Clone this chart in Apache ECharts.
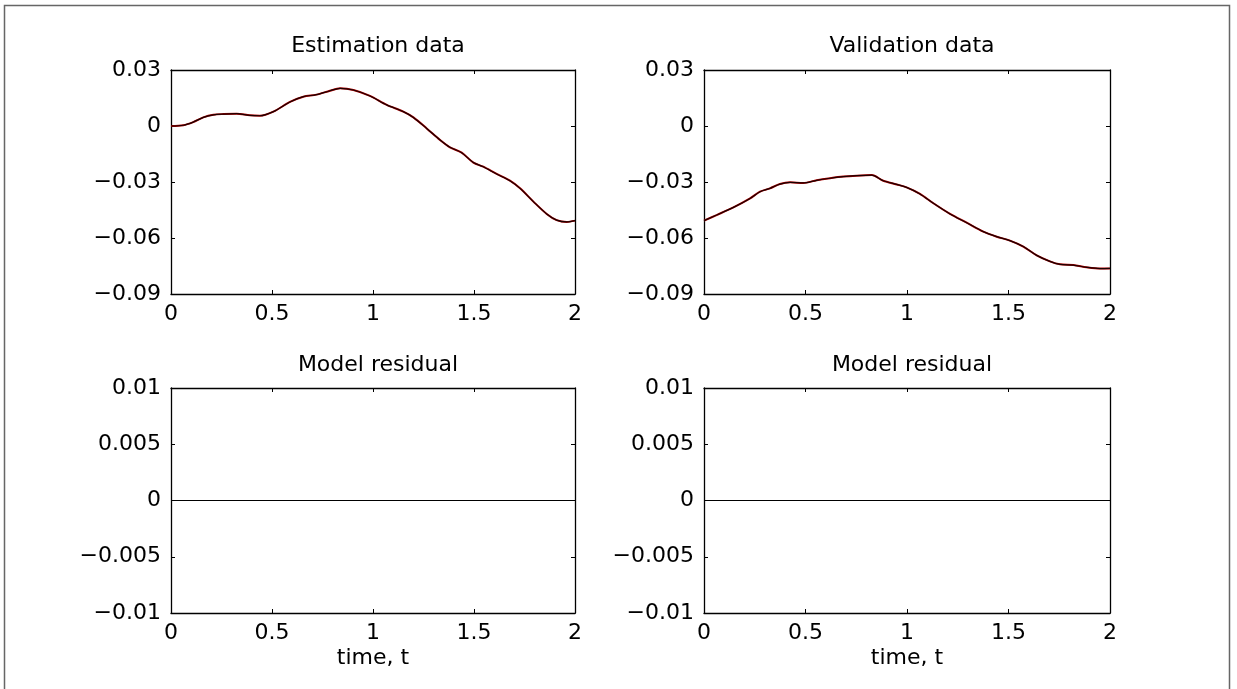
<!DOCTYPE html>
<html>
<head>
<meta charset="utf-8">
<script src="https://cdn.jsdelivr.net/npm/echarts@6/dist/echarts.min.js"></script>
<style>
html,body{margin:0;padding:0;background:#fff;}
#chart{width:1237px;height:689px;}
</style>
</head>
<body>
<div id="chart"></div>
<script>
// Estimation data [t, value]
const estimationData = [
  [0,0],[0.061,0.0004],[0.11,0.0021],[0.16,0.0046],[0.21,0.006],[0.26,0.0064],
  [0.325,0.0066],[0.39,0.0057],[0.44,0.0055],[0.507,0.0077],[0.589,0.0129],
  [0.655,0.0157],[0.72,0.0168],[0.787,0.0189],[0.837,0.0202],[0.903,0.0193],
  [0.985,0.0161],[1.068,0.0113],[1.15,0.0077],[1.2,0.0046],[1.266,-0.0013],
  [1.332,-0.0075],[1.381,-0.0114],[1.439,-0.0143],[1.497,-0.0196],[1.546,-0.0218],
  [1.612,-0.0257],[1.678,-0.0293],[1.728,-0.0334],[1.794,-0.0405],[1.86,-0.0471],
  [1.909,-0.0504],[1.959,-0.0514],[2.0,-0.0507]
];
// Validation data [t, value]
const validationData = [
  [0,-0.0507],[0.062,-0.0477],[0.145,-0.0436],[0.227,-0.0388],[0.276,-0.0352],
  [0.325,-0.0334],[0.374,-0.0311],[0.424,-0.0302],[0.489,-0.0305],[0.555,-0.0291],
  [0.621,-0.028],[0.686,-0.0271],[0.752,-0.0266],[0.826,-0.0263],[0.883,-0.0293],
  [0.949,-0.0313],[0.998,-0.0329],[1.064,-0.0364],[1.13,-0.0414],[1.212,-0.0471],
  [1.294,-0.0518],[1.376,-0.0566],[1.442,-0.0593],[1.507,-0.0614],[1.573,-0.0646],
  [1.639,-0.0693],[1.704,-0.0725],[1.754,-0.0741],[1.819,-0.0745],[1.885,-0.0757],
  [1.951,-0.0764],[2.0,-0.0763]
];
// Model residuals [t, value]
const residualEstimation = [[0,0],[2,0]];
const residualValidation = [[0,0],[2,0]];

const titles = ['Estimation data','Validation data','Model residual','Model residual'];
const xTicks = [0,0.5,1,1.5,2];
const yTicksTop = [-0.09,-0.06,-0.03,0,0.03];
const yTicksBottom = [-0.01,-0.005,0,0.005,0.01];
const xName = 'time, t';

const FONT = 'DejaVu Sans, Liberation Sans, Arial, sans-serif';
const FS = 22;

const grids = [
  {left:171, top:70, width:404, height:224},
  {left:704, top:70, width:406, height:224},
  {left:171, top:388, width:404, height:225},
  {left:704, top:388, width:406, height:225}
];

function fmt(v){
  let r = Math.round(v*100000)/100000;
  let s = String(r);
  return s.replace('-', '\u2212');
}

const xAxes = [], yAxes = [];
grids.forEach((g,i)=>{
  const lineStyle = {color:'#000', width:1.3};
  const bottom = i>=2;
  xAxes.push({
    type:'value', gridIndex:i, min:0, max:2, interval:0.5, position:'bottom',
    axisLine:{show:true, onZero:false, lineStyle},
    axisTick:{show:true, inside:true, length:4, lineStyle:{color:'#000',width:1}},
    axisLabel:{show:true, margin:9, color:'#000', fontSize:FS, fontFamily:FONT, formatter:fmt,
      customValues: xTicks},
    splitLine:{show:false},
    name: bottom ? xName : '', nameLocation:'middle', nameGap:34,
    nameTextStyle:{color:'#000', fontSize:FS, fontFamily:FONT}
  });
  xAxes.push({
    type:'value', gridIndex:i, min:0, max:2, interval:0.5, position:'top',
    axisLine:{show:true, onZero:false, lineStyle},
    axisTick:{show:true, inside:true, length:4, lineStyle:{color:'#000',width:1}},
    axisLabel:{show:false}, splitLine:{show:false}
  });
  const yt = i<2 ? yTicksTop : yTicksBottom;
  const ymin = yt[0], ymax = yt[yt.length-1], yint = yt[1]-yt[0];
  yAxes.push({
    type:'value', gridIndex:i, min:ymin, max:ymax, interval:yint, position:'left',
    axisLine:{show:true, onZero:false, lineStyle},
    axisTick:{show:true, inside:true, length:4, lineStyle:{color:'#000',width:1}},
    axisLabel:{show:true, margin:10, color:'#000', fontSize:FS, fontFamily:FONT, formatter:fmt},
    splitLine:{show:false}
  });
  yAxes.push({
    type:'value', gridIndex:i, min:ymin, max:ymax, interval:yint, position:'right',
    axisLine:{show:true, onZero:false, lineStyle},
    axisTick:{show:true, inside:true, length:4, lineStyle:{color:'#000',width:1}},
    axisLabel:{show:false}, splitLine:{show:false}
  });
});

function lineSeries(data, idx, color, width){
  return {
    type:'line', data, xAxisIndex: idx*2, yAxisIndex: idx*2,
    showSymbol:false, smooth:0.3, animation:false,
    lineStyle:{color, width}, silent:true
  };
}

const titleCenters = [[373,30],[907,30],[373,349],[907,349]];
const option = {
  backgroundColor:'#fff',
  animation:false,
  title: titles.map((t,i)=>({
    text:t, left:titleCenters[i][0], top:titleCenters[i][1], textAlign:'center',
    textStyle:{color:'#000', fontSize:FS, fontWeight:'normal', fontFamily:FONT}
  })),
  grid: grids,
  xAxis: xAxes,
  yAxis: yAxes,
  series: [
    lineSeries(estimationData,0,'#b00000',2),
    lineSeries(estimationData,0,'#1a0000',1.2),
    lineSeries(validationData,1,'#b00000',2),
    lineSeries(validationData,1,'#1a0000',1.2),
    lineSeries(residualEstimation,2,'#000',1.2),
    lineSeries(residualValidation,3,'#000',1.2)
  ],
  graphic:[{
    type:'rect', shape:{x:4.5, y:5.5, width:1225, height:700},
    style:{fill:null, stroke:'#666', lineWidth:1.5}, silent:true, z:-1
  }]
};

const chart = echarts.init(document.getElementById('chart'));
chart.setOption(option);
</script>
</body>
</html>
